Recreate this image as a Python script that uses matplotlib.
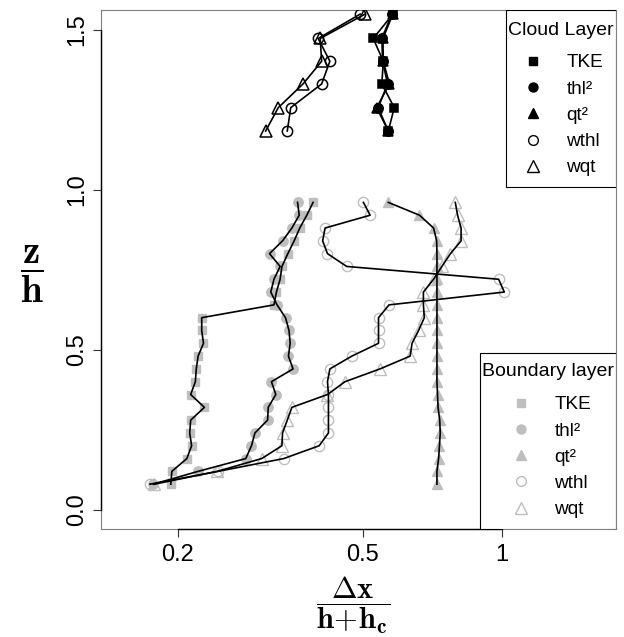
import matplotlib
matplotlib.use("Agg")
import matplotlib.pyplot as plt
from matplotlib.lines import Line2D
from matplotlib.patches import Rectangle

plt.rcParams['font.family'] = ['Liberation Sans', 'DejaVu Sans']
plt.rcParams['mathtext.fontset'] = 'cm'

# niveis z/h
z_cloud = [1.183, 1.256, 1.330, 1.401, 1.472, 1.548]
z_bl = [0.08, 0.12, 0.16, 0.20, 0.24, 0.28, 0.32, 0.36, 0.40, 0.44, 0.48, 0.52,
        0.56, 0.60, 0.64, 0.68, 0.72, 0.76, 0.80, 0.84, 0.88, 0.92, 0.96]

# camada de nuvem
tke_cloud = [0.568, 0.585, 0.550, 0.554, 0.527, 0.581]
thl_cloud = [0.568, 0.540, 0.566, 0.552, 0.550, 0.578]
qt_cloud = [0.568, 0.536, 0.571, 0.554, 0.553, 0.581]
wthl_cloud = [0.344, 0.350, 0.408, 0.425, 0.401, 0.494]
wqt_cloud = [0.309, 0.329, 0.372, 0.408, 0.405, 0.506]

# camada limite
tke_bl = [0.193, 0.194, 0.209, 0.214, 0.212, 0.213, 0.228, 0.213, 0.218, 0.219, 0.221, 0.227,
          0.225, 0.225, 0.322, 0.326, 0.332, 0.335, 0.345, 0.356, 0.366, 0.379, 0.391]
thl_bl = [0.177, 0.221, 0.280, 0.288, 0.293, 0.312, 0.313, 0.325, 0.318, 0.354, 0.346, 0.349,
          0.347, 0.341, 0.327, 0.317, 0.322, 0.332, 0.315, 0.336, 0.352, 0.365, 0.362]
qt_bl = [0.723, 0.723, 0.729, 0.732, 0.735, 0.733, 0.727, 0.725, 0.723, 0.723, 0.723, 0.723,
         0.723, 0.723, 0.723, 0.723, 0.723, 0.723, 0.723, 0.722, 0.711, 0.663, 0.568]
wthl_bl = [0.174, 0.244, 0.338, 0.403, 0.422, 0.422, 0.422, 0.422, 0.420, 0.425, 0.474, 0.541,
           0.541, 0.541, 0.570, 1.010, 0.982, 0.462, 0.420, 0.410, 0.415, 0.519, 0.502]
wqt_bl = [0.178, 0.243, 0.303, 0.335, 0.336, 0.344, 0.352, 0.420, 0.458, 0.545, 0.633, 0.639,
          0.660, 0.679, 0.676, 0.676, 0.711, 0.741, 0.773, 0.815, 0.815, 0.801, 0.792]

names = ['TKE', 'thl\u00b2', 'qt\u00b2', 'wthl', 'wqt']
markers = ['s', 'o', '^', 'o', '^']
filled = [True, True, True, False, False]
sizes = [6.0, 6.8, 7.5, 7.4, 8.8]
grey = '#BEBEBE'

cloud = [tke_cloud, thl_cloud, qt_cloud, wthl_cloud, wqt_cloud]
bl = [tke_bl, thl_bl, qt_bl, wthl_bl, wqt_bl]

fig = plt.figure(figsize=(6.24, 6.37), dpi=100)
ax = fig.add_axes([101 / 624, 1 - 529 / 637, 515 / 624, 518.7 / 637])

# camada limite: marcadores cinza, linhas pretas
for vals, m, f, s in zip(bl, markers, filled, sizes):
    ax.plot(vals, z_bl, linestyle='none', marker=m, ms=s,
            mfc=grey if f else 'none', mec=grey, mew=1.0, zorder=2)
    ax.plot(vals, z_bl, color='black', lw=1.2, zorder=3)

# camada de nuvem: tudo preto
for vals, m, f, s in zip(cloud, markers, filled, sizes):
    ax.plot(vals, z_cloud, color='black', lw=1.2, marker=m, ms=s,
            mfc='black' if f else 'none', mec='black', mew=1.1, zorder=4)

ax.set_xscale('log')
ax.set_xlim(0.1365, 1.758)
ax.set_ylim(-0.06, 1.56)
ax.set_xticks([0.2, 0.5, 1])
ax.set_xticklabels(['0.2', '0.5', '1'])
ax.minorticks_off()
ax.set_yticks([0, 0.5, 1.0, 1.5])
ax.set_yticklabels(['0.0', '0.5', '1.0', '1.5'], rotation=90, va='center')
ax.tick_params(labelsize=17, length=5.5, width=0.8, color='#333333', pad=5)
ax.tick_params(axis='y', pad=4)

for sp in ax.spines.values():
    sp.set_color('#7f7f7f')
    sp.set_linewidth(0.8)
# linhas dos eixos (estilo R)
ax.plot([0, 0], [0, 1.5], transform=ax.get_yaxis_transform(), color='black',
        lw=1.0, clip_on=False, zorder=5)
ax.plot([0.2, 1], [0, 0], transform=ax.get_xaxis_transform(), color='black',
        lw=1.0, clip_on=False, zorder=5)

fig.text(32 / 624, 1 - 274 / 637, r'$\dfrac{\mathbf{z}}{\mathbf{h}}$', fontsize=28,
         ha='center', va='center')
fig.text(353 / 624, 1 - 605 / 637, r'$\dfrac{\mathbf{\Delta x}}{\mathbf{h\!+\!h_c}}$',
         fontsize=22, ha='center', va='center')


def handles(color):
    hs = []
    for n, m, f, s in zip(names, markers, filled, sizes):
        hs.append(Line2D([], [], linestyle='none', marker=m, ms=s * 0.95,
                         mfc=color if f else 'none', mec=color, mew=1.0, label=n))
    return hs


leg_kw = dict(borderaxespad=0, borderpad=0, fontsize=13.7, frameon=False,
              handlelength=1.2, handletextpad=1.15, labelspacing=0.47, loc='upper left')

# caixa + titulo + entradas (estilo legenda do R)
ax.add_patch(Rectangle((0.7864, 0.6593), 0.2136, 0.3407, transform=ax.transAxes,
                       facecolor='white', edgecolor='black', lw=0.8, zorder=6))
ax.text(0.893, 0.962, 'Cloud Layer', transform=ax.transAxes, fontsize=14,
        ha='center', va='center', zorder=7)
leg1 = ax.legend(handles=handles('black'), bbox_to_anchor=(0.817, 0.9155), **leg_kw)
leg1.set_zorder(8)
ax.add_artist(leg1)

ax.add_patch(Rectangle((0.7359, 0.0), 0.2641, 0.3399, transform=ax.transAxes,
                       facecolor='white', edgecolor='black', lw=0.8, zorder=6))
ax.text(0.868, 0.3027, 'Boundary layer', transform=ax.transAxes, fontsize=14,
        ha='center', va='center', zorder=7)
leg2 = ax.legend(handles=handles(grey), bbox_to_anchor=(0.7937, 0.2565), **leg_kw)
leg2.set_zorder(8)

fig.savefig('out.png', dpi=100)
